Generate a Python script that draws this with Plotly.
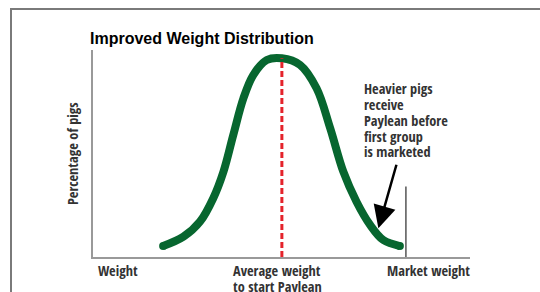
import plotly.graph_objects as go

# ---- data (axes run 0..100 in arbitrary units) ----
weight_x = [18.6, 24.0, 28.4, 31.9, 34.6, 37.2, 39.9, 42.5, 46.1, 50.1,
            54.9, 59.3, 62.9, 66.4, 69.9, 73.5, 77.0, 81.4]
pct_pigs = [5.3, 9.8, 17.1, 28.4, 41.2, 58.9, 76.7, 87.9, 95.2, 96.0,
            92.8, 81.5, 62.3, 41.2, 26.7, 15.5, 8.2, 5.3]
avg_weight = 50.1
avg_top = 96.0
market_weight = 83.0
market_top = 34.0
arrow_tail = (80.6, 45.3)
arrow_tip = (75.7, 13.9)

title_text = "Improved Weight Distribution"
y_title = "Percentage of pigs"
x_labels = ["Weight", "Average weight", "to start Paylean", "Market weight"]
note_lines = ["Heavier pigs", "receive", "Paylean before", "first group", "is marketed"]

# ---- layout geometry ----
W, H = 540, 292
L, R, T, B = 93, 70, 50, 35
PW, PH = W - L - R, H - T - B


def px(x):
    return (x - L) / PW


def py(y):
    return (H - B - y) / PH


NARROW = "Open Sans Condensed, Liberation Sans, Arial, sans-serif"
NFONT = dict(family=NARROW, size=14.3, color="#333333", weight=700)

fig = go.Figure()
fig.add_trace(go.Scatter(x=weight_x, y=pct_pigs, mode="lines",
                         line=dict(color="#07662f", width=8, shape="spline"),
                         hoverinfo="skip"))
fig.add_trace(go.Scatter(x=[weight_x[0], weight_x[-1]], y=[pct_pigs[0], pct_pigs[-1]],
                         mode="markers", marker=dict(color="#07662f", size=8),
                         hoverinfo="skip"))
fig.add_trace(go.Scatter(x=[avg_weight, avg_weight], y=[0, avg_top], mode="lines",
                         line=dict(color="#e4232b", width=3, dash="6px,3px"),
                         hoverinfo="skip"))
fig.add_trace(go.Scatter(x=[market_weight, market_weight], y=[0, market_top], mode="lines",
                         line=dict(color="#555555", width=1.5), hoverinfo="skip"))

ann = []
ann.append(dict(x=arrow_tip[0], y=arrow_tip[1], ax=arrow_tail[0], ay=arrow_tail[1],
                xref="x", yref="y", axref="x", ayref="y", text="", showarrow=True,
                arrowhead=2, arrowsize=1.8, arrowwidth=2.5, arrowcolor="#000000"))
ann.append(dict(x=px(88), y=py(38.5), xref="paper", yref="paper", xanchor="left",
                yanchor="middle", text="<b>" + title_text + "</b>", showarrow=False,
                font=dict(family="Liberation Sans, Arial, sans-serif", size=16, color="#000000")))
ann.append(dict(x=px(72), y=py(154), xref="paper", yref="paper", xanchor="center",
                yanchor="middle", text=y_title, textangle=-90, showarrow=False, font=NFONT))
ann.append(dict(x=px(96), y=py(270), xref="paper", yref="paper", xanchor="left",
                yanchor="middle", text=x_labels[0], showarrow=False, font=NFONT))
ann.append(dict(x=px(277), y=py(270), xref="paper", yref="paper", xanchor="center",
                yanchor="middle", text=x_labels[1], showarrow=False, font=NFONT))
ann.append(dict(x=px(277), y=py(286), xref="paper", yref="paper", xanchor="center",
                yanchor="middle", text=x_labels[2], showarrow=False, font=NFONT))
ann.append(dict(x=px(472), y=py(270), xref="paper", yref="paper", xanchor="right",
                yanchor="middle", text=x_labels[3], showarrow=False, font=NFONT))
for i, line in enumerate(note_lines):
    ann.append(dict(x=px(362), y=py(89 + 15.7 * i), xref="paper", yref="paper",
                    xanchor="left", yanchor="middle", text=line, showarrow=False, font=NFONT))

fig.update_layout(
    width=W, height=H, margin=dict(l=L, r=R, t=T, b=B),
    paper_bgcolor="white", plot_bgcolor="white", showlegend=False,
    xaxis=dict(range=[0, 100], showgrid=False, zeroline=False, showticklabels=False,
               ticks="", showline=True, linecolor="#999999", linewidth=2, fixedrange=True),
    yaxis=dict(range=[0, 100], showgrid=False, zeroline=False, showticklabels=False,
               ticks="", showline=True, linecolor="#999999", linewidth=2, fixedrange=True),
    annotations=ann,
    shapes=[dict(type="rect", xref="paper", yref="paper",
                 x0=px(11), x1=px(560), y0=py(310), y1=py(9),
                 line=dict(color="#7a7a7a", width=2), fillcolor="rgba(0,0,0,0)",
                 layer="below")],
)

fig.write_html("out.html", config={"displayModeBar": False, "staticPlot": True},
               post_script="document.body.style.margin='0';")
